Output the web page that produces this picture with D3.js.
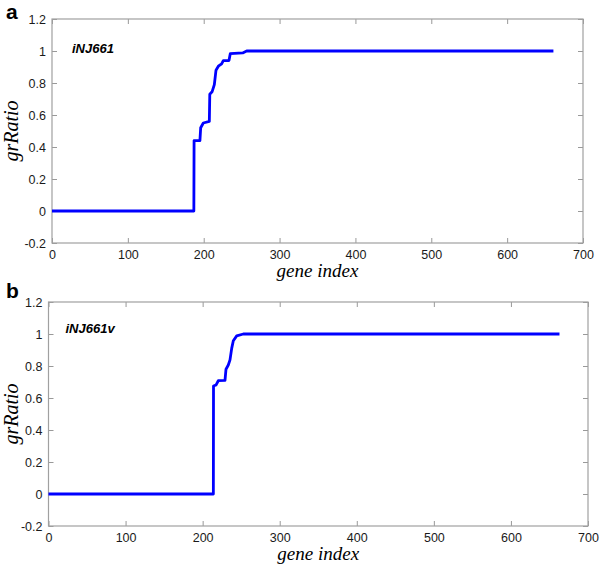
<!DOCTYPE html>
<html>
<head>
<meta charset="utf-8">
<script src="https://cdn.jsdelivr.net/npm/d3@7"></script>
<style>
  body { margin: 0; background: #fff; }
  .tick text { font-family: "Liberation Sans", Arial, sans-serif; font-size: 12.5px; fill: #1a1a1a; }
</style>
</head>
<body>
<svg id="chart" width="600" height="568"></svg>
<script>
// panel a: iNJ661
const geneA  = [0, 187, 187.3, 195, 196, 199.5, 207.4, 208, 211, 214, 216.2, 219.3, 223.6, 225.8, 233.3, 235, 251.4, 256.6, 661];
const ratioA = [0, 0, 0.44, 0.44, 0.52, 0.55, 0.56, 0.73, 0.745, 0.79, 0.88, 0.905, 0.92, 0.94, 0.94, 0.983, 0.988, 1, 1];

// panel b: iNJ661v
const geneB  = [0, 213.9, 214.1, 217.3, 220.3, 229, 230.3, 233.3, 235.5, 237.7, 239.8, 244.2, 252.8, 663];
const ratioB = [0, 0, 0.675, 0.681, 0.708, 0.71, 0.78, 0.806, 0.838, 0.91, 0.958, 0.988, 1, 1];

const xTicks = [0, 100, 200, 300, 400, 500, 600, 700];
const yTicks = [-0.2, 0, 0.2, 0.4, 0.6, 0.8, 1, 1.2];

const svg = d3.select("#chart");

/*
  one panel = box, inward ticks on all sides, blue step line
*/
function drawPanel(opts) {
  const x = d3.scaleLinear().domain([0, 700]).range([opts.left, opts.right]);
  const y = d3.scaleLinear().domain([-0.2, 1.2]).range([opts.bottom, opts.top]);
  const g = svg.append("g");
  const fmt = d => String(+d.toFixed(1));

  g.append("g")
    .attr("transform", `translate(0,${opts.bottom})`)
    .call(d3.axisBottom(x).tickValues(xTicks).tickSize(-5).tickPadding(7).tickFormat(fmt));
  g.append("g")
    .attr("transform", `translate(0,${opts.top})`)
    .call(d3.axisTop(x).tickValues(xTicks).tickSize(-5).tickFormat(""));
  g.append("g")
    .attr("transform", `translate(${opts.left},0)`)
    .call(d3.axisLeft(y).tickValues(yTicks).tickSize(-5).tickPadding(6).tickFormat(fmt));
  g.append("g")
    .attr("transform", `translate(${opts.right},0)`)
    .call(d3.axisRight(y).tickValues(yTicks).tickSize(-5).tickFormat(""));

  g.selectAll(".domain").remove();
  g.selectAll(".tick line").attr("stroke", "#999");

  g.append("rect")
    .attr("x", opts.left).attr("y", opts.top)
    .attr("width", opts.right - opts.left).attr("height", opts.bottom - opts.top)
    .attr("fill", "none").attr("stroke", "#a0a0a0").attr("stroke-width", 1.2);

  const pts = opts.genes.map((gv, i) => [gv, opts.ratios[i]]);
  const line = d3.line().x(d => x(d[0])).y(d => y(d[1]));
  g.append("path")
    .datum(pts)
    .attr("d", line)
    .attr("fill", "none")
    .attr("stroke", "#0000ff")
    .attr("stroke-width", 2.8)
    .attr("stroke-linejoin", "round");

  // model name inside plot
  g.append("text")
    .attr("x", opts.left + opts.nameDx).attr("y", opts.nameY)
    .attr("font-family", "Liberation Sans, Arial, sans-serif")
    .attr("font-size", 13).attr("font-weight", "bold").attr("font-style", "italic")
    .text(opts.name);

  // axis labels
  g.append("text")
    .attr("x", (opts.left + opts.right) / 2).attr("y", opts.bottom + 34)
    .attr("text-anchor", "middle")
    .attr("font-family", "Liberation Serif, Times New Roman, serif")
    .attr("font-style", "italic").attr("font-size", 19)
    .text("gene index");
  g.append("text")
    .attr("transform", `translate(18,${(opts.top + opts.bottom) / 2}) rotate(-90)`)
    .attr("text-anchor", "middle")
    .attr("font-family", "Liberation Serif, Times New Roman, serif")
    .attr("font-style", "italic").attr("font-size", 20)
    .text("grRatio");

  // panel letter
  svg.append("text")
    .attr("x", 6).attr("y", opts.letterY)
    .attr("font-family", "Liberation Sans, Arial, sans-serif")
    .attr("font-size", 21).attr("font-weight", "bold")
    .text(opts.letter);
}

drawPanel({ left: 52, right: 583, top: 19, bottom: 243, genes: geneA, ratios: ratioA,
  name: "iNJ661", nameDx: 20, nameY: 53, letter: "a", letterY: 19 });
drawPanel({ left: 48.5, right: 588, top: 302, bottom: 526, genes: geneB, ratios: ratioB,
  name: "iNJ661v", nameDx: 17, nameY: 333, letter: "b", letterY: 298 });
</script>
</body>
</html>
